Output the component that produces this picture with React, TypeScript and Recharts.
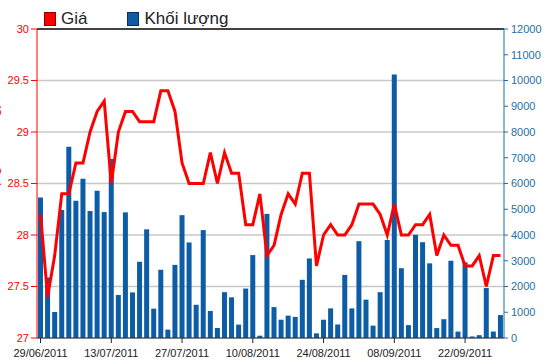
import {
  ComposedChart,
  Bar,
  Line,
  XAxis,
  YAxis,
  CartesianGrid,
  ReferenceLine,
} from 'recharts';

const DATES = [
  '29/06/2011', '30/06/2011', '01/07/2011', '04/07/2011', '05/07/2011', '06/07/2011',
  '07/07/2011', '08/07/2011', '11/07/2011', '12/07/2011', '13/07/2011', '14/07/2011',
  '15/07/2011', '18/07/2011', '19/07/2011', '20/07/2011', '21/07/2011', '22/07/2011',
  '25/07/2011', '26/07/2011', '27/07/2011', '28/07/2011', '29/07/2011', '01/08/2011',
  '02/08/2011', '03/08/2011', '04/08/2011', '05/08/2011', '08/08/2011', '09/08/2011',
  '10/08/2011', '11/08/2011', '12/08/2011', '15/08/2011', '16/08/2011', '17/08/2011',
  '18/08/2011', '19/08/2011', '22/08/2011', '23/08/2011', '24/08/2011', '25/08/2011',
  '26/08/2011', '29/08/2011', '30/08/2011', '31/08/2011', '01/09/2011', '05/09/2011',
  '06/09/2011', '07/09/2011', '08/09/2011', '09/09/2011', '12/09/2011', '13/09/2011',
  '14/09/2011', '15/09/2011', '16/09/2011', '19/09/2011', '20/09/2011', '21/09/2011',
  '22/09/2011', '23/09/2011', '26/09/2011', '27/09/2011', '28/09/2011', '29/09/2011',
];

// giá (nghìn đồng)
const PRICES = [
  28.2, 27.4, 27.8, 28.4, 28.4, 28.7, 28.7, 29.0, 29.2, 29.3, 28.5, 29.0,
  29.2, 29.2, 29.1, 29.1, 29.1, 29.4, 29.4, 29.2, 28.7, 28.5, 28.5, 28.5,
  28.8, 28.5, 28.8, 28.6, 28.6, 28.1, 28.1, 28.4, 27.8, 27.9, 28.2, 28.4,
  28.3, 28.6, 28.6, 27.7, 28.0, 28.1, 28.0, 28.0, 28.1, 28.3, 28.3, 28.3,
  28.2, 28.0, 28.3, 28.0, 28.0, 28.1, 28.1, 28.2, 27.8, 28.0, 27.9, 27.9,
  27.7, 27.7, 27.8, 27.5, 27.8, 27.8,
];

// khối lượng
const VOLUMES = [
  5460, 2350, 1010, 4970, 7430, 5330, 6180, 4930, 5720, 4890, 6950, 1670,
  4880, 1770, 2960, 4220, 1140, 2650, 325, 2840, 4770, 3710, 1290, 4190,
  1050, 390, 1780, 1580, 520, 1920, 3220, 90, 4820, 1200, 710, 870,
  820, 2260, 3090, 180, 710, 1150, 525, 2450, 1150, 3760, 1490, 480,
  1780, 3810, 10230, 2710, 500, 4010, 3720, 2900, 385, 730, 3000, 250,
  2940, 60, 110, 1940, 250, 890,
];

const PRICE_TICKS = [27, 27.5, 28, 28.5, 29, 29.5, 30];
const VOLUME_TICKS = [0, 1000, 2000, 3000, 4000, 5000, 6000, 7000, 8000, 9000, 10000, 11000, 12000];

const data = DATES.map((date, i) => ({
  date,
  price: PRICES[i],
  volume: VOLUMES[i],
}));

const RED = '#ff0000';
const BLUE = '#0d5ca6';
const AXIS_BLUE = '#1f6fa8';
const FONT = '"Liberation Sans", Arial, sans-serif';

function LegendItem({ color, border, label }: { color: string; border: string; label: string }) {
  return (
    <div style={{ display: 'flex', alignItems: 'center', marginRight: 40 }}>
      <span
        style={{
          width: 10,
          height: 12,
          background: color,
          border: `1px solid ${border}`,
          marginRight: 5,
          display: 'inline-block',
        }}
      />
      <span style={{ fontSize: 17, color: '#222', lineHeight: '17px' }}>{label}</span>
    </div>
  );
}

export default function App() {
  return (
    <div
      style={{
        position: 'absolute',
        left: 0,
        top: 0,
        width: 550,
        height: 364,
        overflow: 'hidden',
        background: '#fff',
        fontFamily: FONT,
      }}
    >
      <div style={{ position: 'absolute', left: 44, top: 10, display: 'flex' }}>
        <LegendItem color={RED} border="#8a0000" label="Giá" />
        <LegendItem color={BLUE} border="#06325a" label="Khối lượng" />
      </div>

      {/* tiêu đề trục trái, gần như bị cắt ở mép như ảnh gốc */}
      <div
        style={{
          position: 'absolute',
          left: -68,
          top: 152,
          width: 120,
          textAlign: 'center',
          transform: 'rotate(-90deg)',
          color: RED,
          fontSize: 15,
          lineHeight: '15px',
        }}
      >
        Giá (nghìn đồng)
      </div>

      <ComposedChart
        width={550}
        height={364}
        data={data}
        margin={{ top: 29, right: 0, left: 0, bottom: 0 }}
        barCategoryGap="33%"
      >
        <CartesianGrid yAxisId="price" vertical={false} stroke="#c8c8c8" strokeWidth={1.5} />
        <XAxis
          dataKey="date"
          interval={9}
          height={26}
          tick={{ fill: '#222', fontSize: 11, fontFamily: FONT }}
          tickSize={5}
          tickMargin={6}
          tickLine={{ stroke: '#222' }}
          axisLine={{ stroke: '#333' }}
        />
        <YAxis
          yAxisId="price"
          domain={[27, 30]}
          ticks={PRICE_TICKS}
          interval={0}
          width={37}
          tick={{ fill: RED, fontSize: 11, fontFamily: FONT }}
          tickSize={6}
          tickMargin={2}
          tickLine={{ stroke: RED }}
          axisLine={{ stroke: RED }}
        />
        <YAxis
          yAxisId="volume"
          orientation="right"
          domain={[0, 12000]}
          ticks={VOLUME_TICKS}
          interval={0}
          width={46}
          tick={{ fill: AXIS_BLUE, fontSize: 11, fontFamily: FONT }}
          tickSize={4}
          tickMargin={3}
          tickLine={{ stroke: AXIS_BLUE }}
          axisLine={{ stroke: AXIS_BLUE }}
        />
        <ReferenceLine yAxisId="price" y={30} stroke="#111" strokeWidth={1.5} />
        <Bar yAxisId="volume" dataKey="volume" fill={BLUE} barSize={5} isAnimationActive={false} />
        <Line
          yAxisId="price"
          dataKey="price"
          type="linear"
          stroke={RED}
          strokeWidth={3}
          dot={false}
          activeDot={false}
          isAnimationActive={false}
        />
      </ComposedChart>
    </div>
  );
}
